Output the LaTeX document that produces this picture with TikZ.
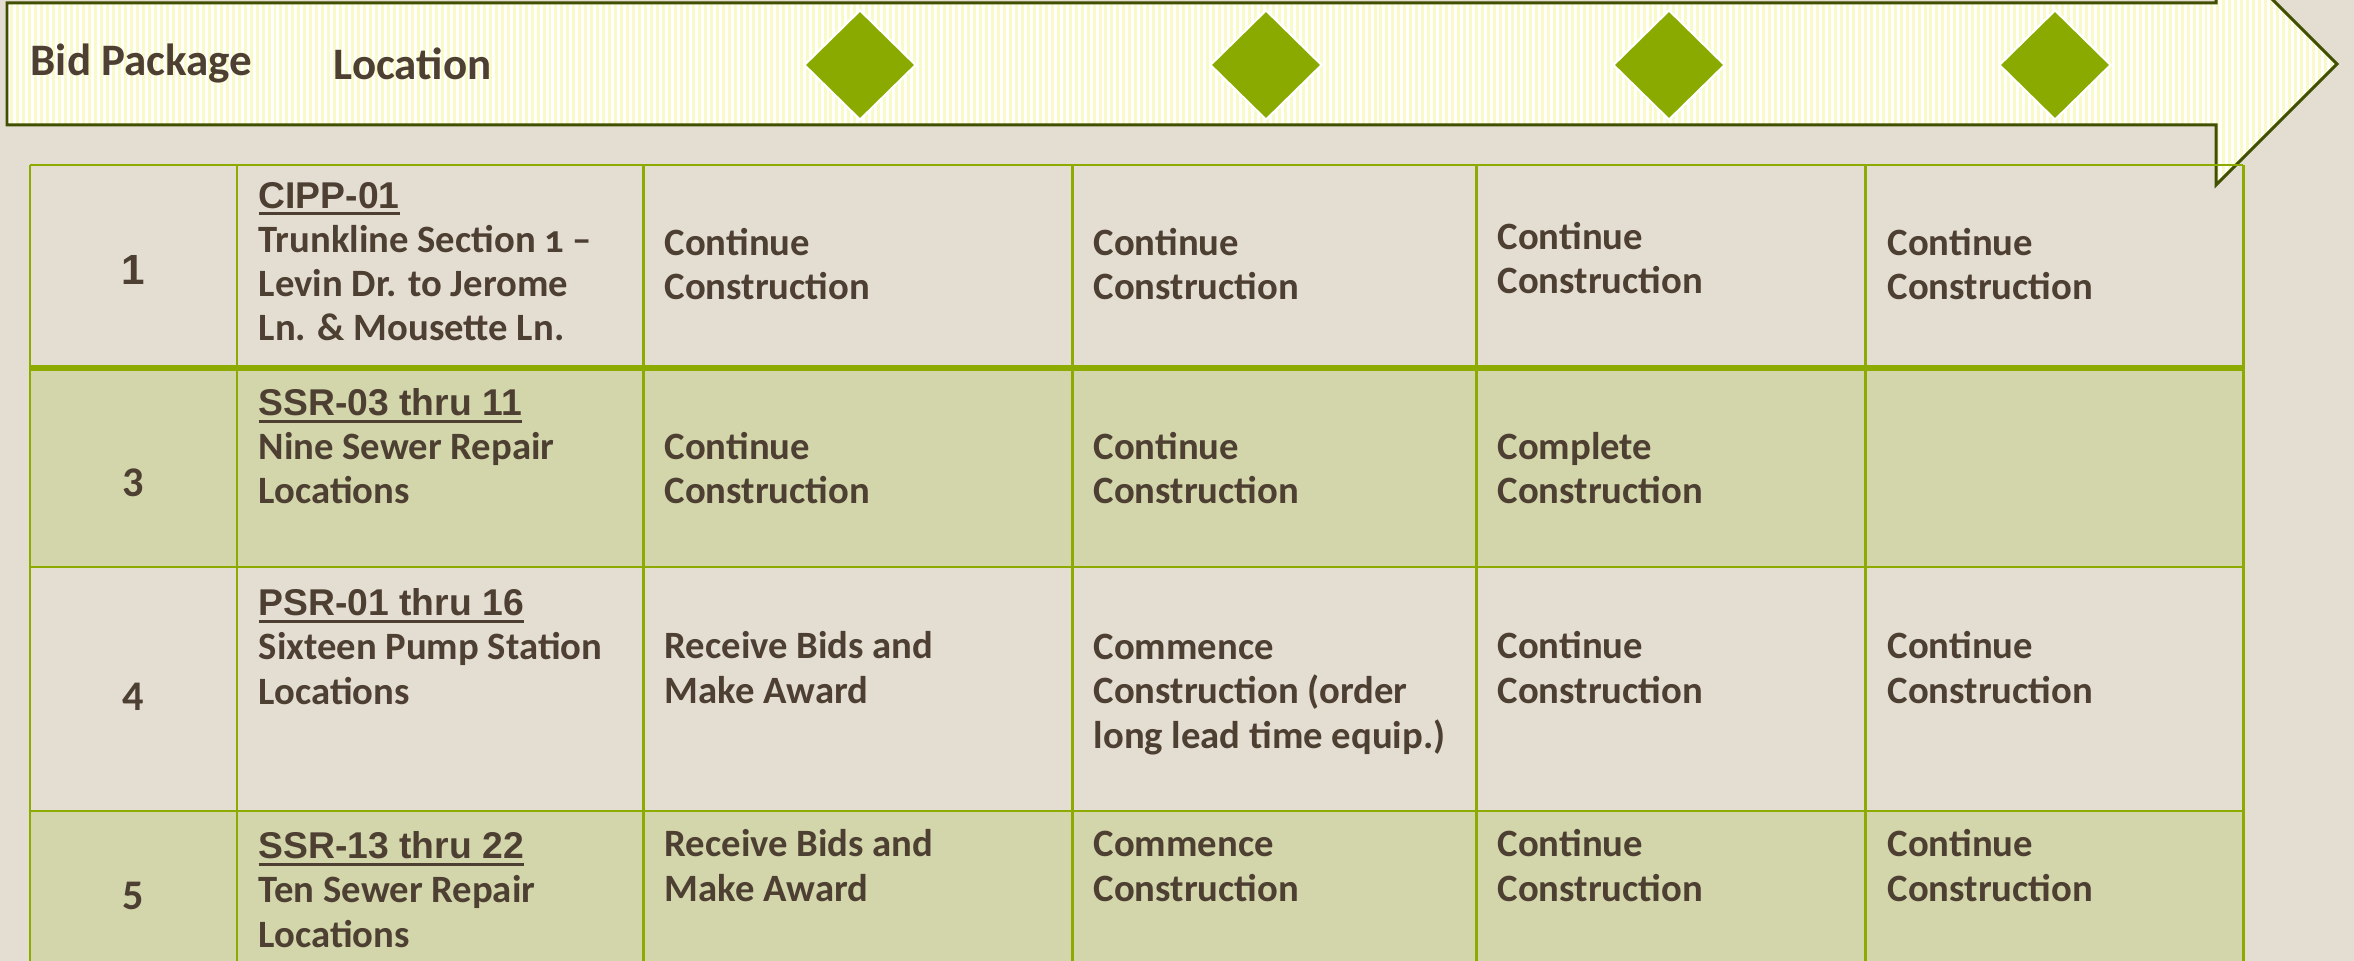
\documentclass[tikz,border=0pt]{standalone}
\usepackage{fontspec}
\setmainfont{Carlito}
\newfontfamily\headfont{Liberation Sans}
\usetikzlibrary{shapes.geometric,patterns.meta}

\definecolor{pagebg}{HTML}{E4DED2}
\definecolor{rowolive}{HTML}{D3D5AA}
\definecolor{gridgreen}{HTML}{8CAA00}
\definecolor{markgreen}{HTML}{8AAA00}
\definecolor{arrowdark}{HTML}{404F00}
\definecolor{stripe}{HTML}{FAFAC8}
\definecolor{inkbrown}{HTML}{4D3F32}

\newcommand{\pkgcode}[1]{\setbox0=\hbox{\headfont\bfseries\fontsize{10.6}{12.6}\selectfont #1}%
  \rlap{\raisebox{-2.1pt}{\rule{\wd0}{0.85pt}}}\box0}
\newcommand{\onum}[1]{{\addfontfeature{Numbers=OldStyle}#1}}

\begin{document}
\begin{tikzpicture}[x=0.01cm,y=-0.01cm,
    cell/.style={anchor=base west,align=left,inner sep=0pt,text=inkbrown,
      font=\fontsize{11}{12.6}\selectfont\bfseries},
    num/.style={inner sep=0pt,text=inkbrown,font=\fontsize{12}{12.6}\selectfont\bfseries},
    hdr/.style={anchor=west,inner sep=0pt,text=inkbrown,font=\fontsize{12.8}{14}\selectfont\bfseries},
    milestone/.style={diamond,fill=markgreen,draw=white,line width=0.6pt,inner sep=0pt,
      minimum width=1.12cm,minimum height=1.1cm},
    tableline/.style={draw=gridgreen,line width=0.85pt}]
      \useasboundingbox (0,0) rectangle (2354,961);
      \fill[pagebg] (0,0) rectangle (2354,961);

      \draw[preaction={fill=white},pattern={Lines[angle=90,distance=1.7pt,line width=0.85pt]},
        pattern color=stripe,draw=arrowdark,line width=0.85pt]
        (7,3) -- (2216,3) -- (2216,-57) -- (2337,64) -- (2216,185) -- (2216,125) -- (7,125) -- cycle;

      \node[milestone] (ms-a) at (860,65)  {};
      \node[milestone] (ms-b) at (1266,65) {};
      \node[milestone] (ms-c) at (1669,65) {};
      \node[milestone] (ms-d) at (2055,65) {};

      \node[hdr] (hdr-bid) at (30,64)  {Bid Package};
      \node[hdr] (hdr-loc) at (333,64) {Location};

      \fill[rowolive] (30,368) rectangle (2243,567);
      \fill[rowolive] (30,811) rectangle (2243,990);

      \draw[tableline] (30,165) -- (2243,165);
      \draw[tableline,line width=1.6pt] (30,368) -- (2243,368);
      \draw[tableline] (30,567) -- (2243,567);
      \draw[tableline] (30,811) -- (2243,811);
      \draw[tableline] (30,165) -- (30,990);
      \draw[tableline] (237,165) -- (237,990);
      \draw[tableline] (643,165) -- (643,990);
      \draw[tableline] (1072,165) -- (1072,990);
      \draw[tableline] (1476,165) -- (1476,990);
      \draw[tableline] (1865,165) -- (1865,990);
      \draw[tableline] (2243,165) -- (2243,990);

      \node[num,font=\headfont\fontsize{12}{12.6}\selectfont\bfseries] (r1-num) at (133,270) {1};
      \node[cell] (r1-loc) at (258,341)  {\pkgcode{CIPP-01}\\Trunkline Section \onum{1} --\\Levin Dr. to Jerome\\Ln. \& Mousette Ln.};
      \node[cell] (r1-m1)  at (664,300)  {Continue\\Construction};
      \node[cell] (r1-m2)  at (1093,300) {Continue\\Construction};
      \node[cell] (r1-m3)  at (1497,294) {Continue\\Construction};
      \node[cell] (r1-m4)  at (1887,300) {Continue\\Construction};

      \node[num] (r2-num) at (133,483) {3};
      \node[cell] (r2-loc) at (258,504)  {\pkgcode{SSR-03 thru 11}\\Nine Sewer Repair\\Locations};
      \node[cell] (r2-m1)  at (664,504)  {Continue\\Construction};
      \node[cell] (r2-m2)  at (1093,504) {Continue\\Construction};
      \node[cell] (r2-m3)  at (1497,504) {Complete\\Construction};

      \node[num] (r3-num) at (133,697) {4};
      \node[cell] (r3-loc) at (258,704)  {\pkgcode{PSR-01 thru 16}\\Sixteen Pump Station\\Locations};
      \node[cell] (r3-m1)  at (664,703)  {Receive Bids and\\Make Award};
      \node[cell] (r3-m2)  at (1093,748) {Commence\\Construction (order\\long lead time equip.)};
      \node[cell] (r3-m3)  at (1497,703) {Continue\\Construction};
      \node[cell] (r3-m4)  at (1887,703) {Continue\\Construction};

      \node[num] (r4-num) at (133,896) {5};
      \node[cell] (r4-loc) at (258,947)  {\pkgcode{SSR-13 thru 22}\\Ten Sewer Repair\\Locations};
      \node[cell] (r4-m1)  at (664,901)  {Receive Bids and\\Make Award};
      \node[cell] (r4-m2)  at (1093,901) {Commence\\Construction};
      \node[cell] (r4-m3)  at (1497,901) {Continue\\Construction};
      \node[cell] (r4-m4)  at (1887,901) {Continue\\Construction};
    \end{tikzpicture}
\end{document}
